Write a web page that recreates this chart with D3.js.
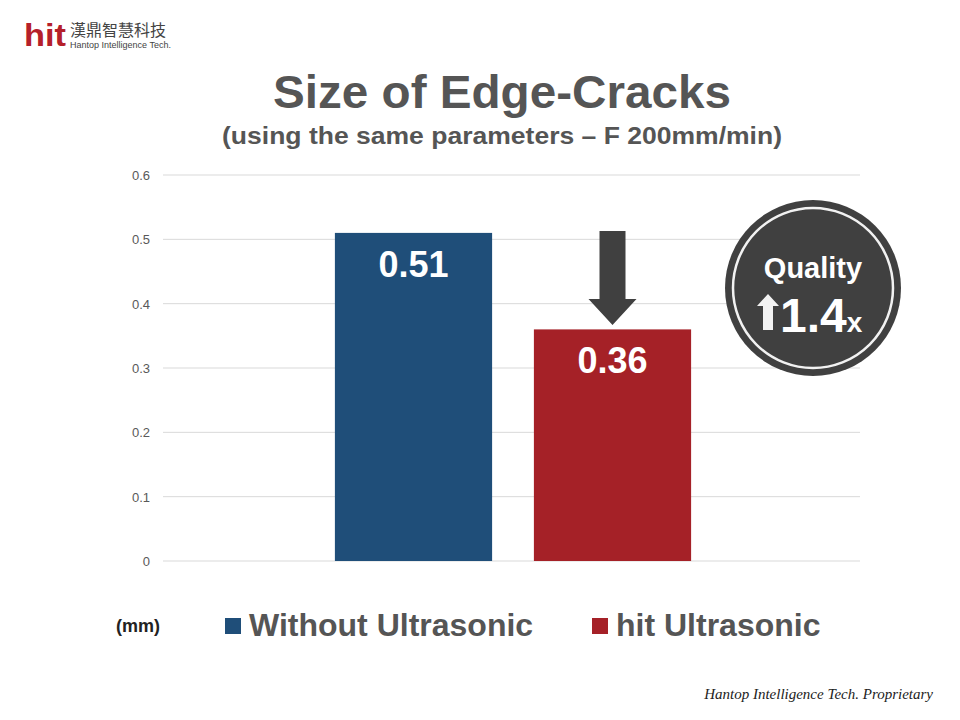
<!DOCTYPE html>
<html><head><meta charset="utf-8">
<script src="https://cdn.jsdelivr.net/npm/d3@7"></script>
<style>body{margin:0;background:#fff}text{font-family:Arial,"Liberation Sans",sans-serif}</style>
</head><body><svg id="c" width="960" height="720"></svg>
<script>
// data
const categories = ["Without Ultrasonic", "hit Ultrasonic"];
const values = [0.51, 0.36];
const colors = ["#1f4e79", "#a52127"];
const yTicks = [0, 0.1, 0.2, 0.3, 0.4, 0.5, 0.6];

const svg = d3.select("#c");

const x = d3.scaleBand().domain(categories).range([314, 712]).paddingInner(0.21).paddingOuter(0.105);
const y = d3.scaleLinear().domain([0, 0.6]).range([561, 175]);

// logo
svg.append("text").attr("x", 24).attr("y", 46).style("font-size", "32px").style("font-weight", "bold")
  .attr("fill", "#b5202a").attr("textLength", 42).attr("lengthAdjust", "spacingAndGlyphs").text("hit");
svg.append("text").attr("x", 70).attr("y", 36).style("font-size", "16px").attr("fill", "#444")
  .style("font-family", "Noto Sans CJK TC").text("漢鼎智慧科技");
svg.append("text").attr("x", 70).attr("y", 48).style("font-size", "9px").attr("fill", "#444").text("Hantop Intelligence Tech.");

// titles
svg.append("text").attr("x", 502).attr("y", 108).attr("text-anchor", "middle").style("font-size", "46px")
  .style("font-weight", "bold").attr("fill", "#555").attr("textLength", 458).attr("lengthAdjust", "spacingAndGlyphs")
  .text("Size of Edge-Cracks");
svg.append("text").attr("x", 502).attr("y", 144).attr("text-anchor", "middle").style("font-size", "24px")
  .style("font-weight", "bold").attr("fill", "#555").attr("textLength", 560).attr("lengthAdjust", "spacingAndGlyphs")
  .text("(using the same parameters – F 200mm/min)");

// grid
svg.append("g").selectAll("line").data(yTicks).join("line")
  .attr("x1", 163).attr("x2", 860).attr("y1", d => y(d)).attr("y2", d => y(d))
  .attr("stroke", "#d9d9d9");
svg.append("g").selectAll("text").data(yTicks).join("text")
  .attr("x", 150).attr("y", d => y(d) + 5).attr("text-anchor", "end")
  .style("font-size", "13px").attr("fill", "#595959").text(d => d);

// bars
svg.append("g").selectAll("rect").data(values).join("rect")
  .attr("x", (d, i) => x(categories[i])).attr("width", x.bandwidth())
  .attr("y", d => y(d)).attr("height", d => y(0) - y(d)).attr("fill", (d, i) => colors[i]);
svg.append("g").selectAll("text").data(values).join("text")
  .attr("x", (d, i) => x(categories[i]) + x.bandwidth() / 2).attr("y", d => y(d) + 44)
  .attr("text-anchor", "middle").style("font-size", "36px").style("font-weight", "bold")
  .attr("fill", "#fff").text(d => d.toFixed(2));

// down arrow above red bar
const ax = x(categories[1]) + x.bandwidth() / 2;
svg.append("path").attr("fill", "#404040")
  .attr("d", `M${ax-13},231 H${ax+13} V299 H${ax+24} L${ax},325 L${ax-24},299 H${ax-13} Z`);

// badge
const bx = 813, by = 288;
svg.append("circle").attr("cx", bx).attr("cy", by).attr("r", 88).attr("fill", "#404040");
svg.append("circle").attr("cx", bx).attr("cy", by).attr("r", 80).attr("fill", "none").attr("stroke", "#f2f2f2").attr("stroke-width", 2.5);
svg.append("text").attr("x", bx).attr("y", by - 10).attr("text-anchor", "middle").style("font-size", "29px")
  .style("font-weight", "bold").attr("fill", "#fff").text("Quality");
svg.append("path").attr("fill", "#f2f2f2")
  .attr("d", `M${bx-56},${by+18} L${bx-45},${by+6} L${bx-34},${by+18} H${bx-40} V${by+42} H${bx-50} V${by+18} Z`);
const t = svg.append("text").attr("x", bx - 33).attr("y", by + 44).style("font-weight", "bold").attr("fill", "#fff");
t.append("tspan").style("font-size", "48px").text("1.4");
t.append("tspan").style("font-size", "28px").text("x");

// legend
svg.append("text").attr("x", 116).attr("y", 632).style("font-size", "18px").style("font-weight", "bold").attr("fill", "#222").text("(mm)");
const lx = [225, 592];
const lg = svg.append("g").selectAll("g").data(categories).join("g")
  .attr("transform", (d, i) => `translate(${lx[i]},618)`);
lg.append("rect").attr("width", 16).attr("height", 16).attr("fill", (d, i) => colors[i]);
lg.append("text").attr("x", 24).attr("y", 18).style("font-size", "32px").style("font-weight", "bold")
  .attr("fill", "#555").text(d => d);

// footer
svg.append("text").attr("x", 933).attr("y", 699).attr("text-anchor", "end").style("font-size", "15px")
  .style("font-style", "italic").style("font-family", "Liberation Serif").attr("fill", "#222")
  .text("Hantop Intelligence Tech. Proprietary");
</script></body></html>
